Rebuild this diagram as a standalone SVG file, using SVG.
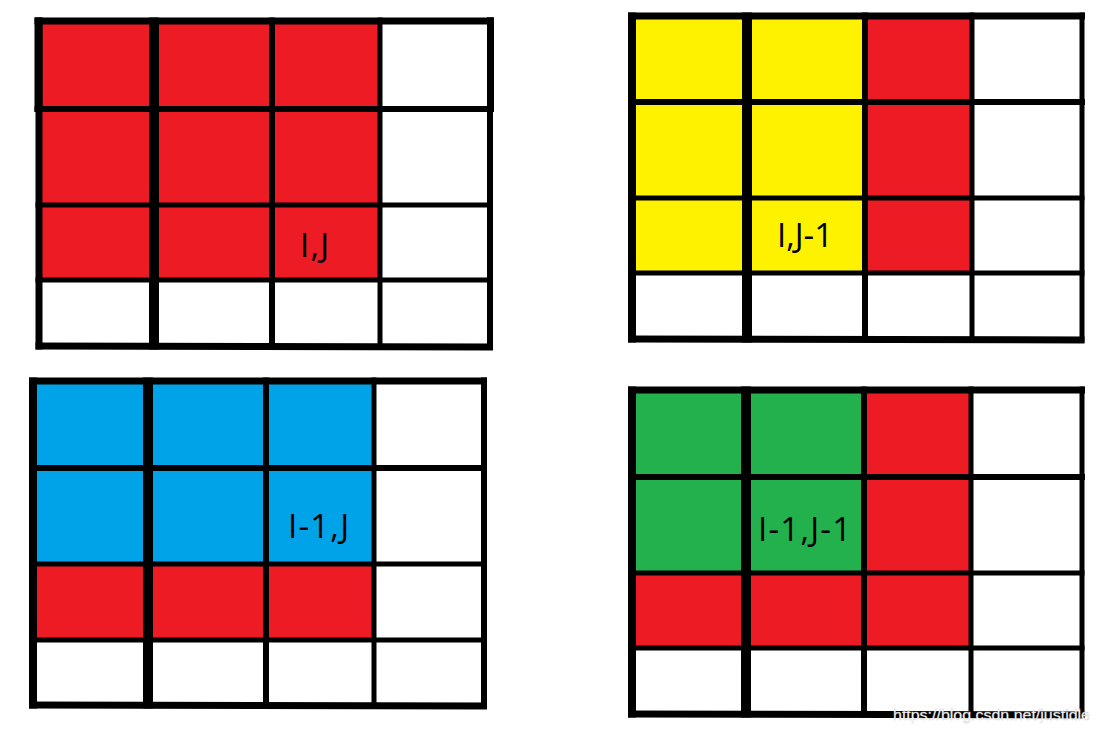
<svg xmlns="http://www.w3.org/2000/svg" width="1100" height="732" viewBox="0 0 1100 732">
<style>
.r{fill:#ED1C24}.y{fill:#FFF200}.b{fill:#00A2E8}.g{fill:#22B14C}
.ln{stroke:#000;fill:none;stroke-linecap:butt}
.lbl{font-family:"Open Sans","Liberation Sans",sans-serif;font-size:33px;fill:#000}
.wm{font-family:"Liberation Sans",Arial,sans-serif;font-size:15px;fill:#fff;stroke:#c8c8c8;stroke-width:0.3}
</style>
<rect x="0" y="0" width="1100" height="732" fill="#fff"/>

<g id="grid-ij">
<rect class="r" x="39" y="21" width="341" height="259"/>
<g class="ln">
<line x1="39" y1="17.5" x2="39" y2="349.5" stroke-width="7"/>
<line x1="38.5" y1="17.5" x2="38.5" y2="112" stroke-width="8"/>
<line x1="154" y1="17.5" x2="154" y2="349.5" stroke-width="10"/>
<line x1="272" y1="17.5" x2="272" y2="349.5" stroke-width="6"/>
<line x1="380" y1="17.5" x2="380" y2="349.5" stroke-width="5"/>
<line x1="490" y1="17.5" x2="490" y2="349.5" stroke-width="6"/>
<line x1="490.5" y1="17.5" x2="490.5" y2="112" stroke-width="7"/>
<line x1="34.5" y1="21" x2="494" y2="21" stroke-width="7"/>
<line x1="34.5" y1="109" x2="494" y2="109" stroke-width="6"/>
<line x1="35.5" y1="205" x2="493" y2="205" stroke-width="5"/>
<line x1="35.5" y1="280" x2="493" y2="280" stroke-width="5"/>
<line x1="35.5" y1="346" x2="493" y2="347" stroke-width="7"/>
</g>
<text class="lbl" x="300" y="257" textLength="29" lengthAdjust="spacing">I,J</text>
</g>

<g id="grid-ij-1">
<rect class="y" x="632" y="16" width="233" height="257"/>
<rect class="r" x="865" y="16" width="107" height="257"/>
<g class="ln">
<line x1="632" y1="12.5" x2="632" y2="342.5" stroke-width="8"/>
<line x1="747" y1="12.5" x2="747" y2="342.5" stroke-width="10"/>
<line x1="865" y1="12.5" x2="865" y2="342.5" stroke-width="6"/>
<line x1="972" y1="12.5" x2="972" y2="342.5" stroke-width="5"/>
<line x1="1082" y1="12.5" x2="1082" y2="342.5" stroke-width="5"/>
<line x1="628" y1="16" x2="1085" y2="16" stroke-width="7"/>
<line x1="628" y1="102" x2="1085" y2="102" stroke-width="6"/>
<line x1="628" y1="198" x2="1084.5" y2="198" stroke-width="5"/>
<line x1="628" y1="273" x2="1084.5" y2="273" stroke-width="5"/>
<line x1="628" y1="339" x2="1084.5" y2="340" stroke-width="7"/>
</g>
<text class="lbl" x="777" y="247" textLength="56" lengthAdjust="spacing">I,J-1</text>
</g>

<g id="grid-i-1j">
<rect class="b" x="33" y="381" width="341" height="183"/>
<rect class="r" x="33" y="564" width="341" height="76"/>
<g class="ln">
<line x1="33" y1="377.5" x2="33" y2="708.5" stroke-width="8"/>
<line x1="148" y1="377.5" x2="148" y2="708.5" stroke-width="10"/>
<line x1="266" y1="377.5" x2="266" y2="708.5" stroke-width="6"/>
<line x1="374" y1="377.5" x2="374" y2="708.5" stroke-width="5"/>
<line x1="484" y1="377.5" x2="484" y2="708.5" stroke-width="6"/>
<line x1="29" y1="381" x2="487" y2="381" stroke-width="7"/>
<line x1="29" y1="468" x2="487" y2="468" stroke-width="6"/>
<line x1="29" y1="564" x2="487" y2="564" stroke-width="5"/>
<line x1="29" y1="640" x2="487" y2="640" stroke-width="5"/>
<line x1="29" y1="705" x2="487" y2="706" stroke-width="7"/>
</g>
<text class="lbl" x="288" y="538" textLength="61" lengthAdjust="spacing">I-1,J</text>
</g>

<g id="grid-i-1j-1">
<rect class="g" x="632" y="390" width="232" height="183"/>
<rect class="r" x="864" y="390" width="107" height="183"/>
<rect class="r" x="632" y="573" width="339" height="75"/>
<g class="ln">
<line x1="632" y1="386.5" x2="632" y2="717.5" stroke-width="8"/>
<line x1="746" y1="386.5" x2="746" y2="717.5" stroke-width="10"/>
<line x1="864" y1="386.5" x2="864" y2="717.5" stroke-width="6"/>
<line x1="971" y1="386.5" x2="971" y2="717.5" stroke-width="5"/>
<line x1="1082" y1="386.5" x2="1082" y2="717.5" stroke-width="5"/>
<line x1="628" y1="390" x2="1085" y2="390" stroke-width="7"/>
<line x1="628" y1="477" x2="1085" y2="477" stroke-width="6"/>
<line x1="628" y1="573" x2="1084.5" y2="573" stroke-width="5"/>
<line x1="628" y1="648" x2="1084.5" y2="648" stroke-width="5"/>
<line x1="628" y1="714" x2="1084.5" y2="715" stroke-width="7"/>
</g>
<text class="lbl" x="758" y="541" textLength="93" lengthAdjust="spacing">I-1,J-1</text>
</g>

<text class="wm" x="893" y="720" textLength="197" lengthAdjust="spacingAndGlyphs">https://blog.csdn.net/justidle</text>
</svg>
